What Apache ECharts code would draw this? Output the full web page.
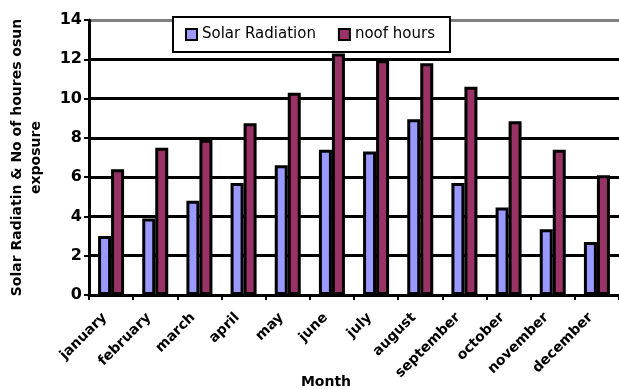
<!DOCTYPE html>
<html>
<head>
<meta charset="utf-8">
<script src="https://cdn.jsdelivr.net/npm/echarts@6/dist/echarts.min.js"></script>
<style>
  html, body { margin: 0; padding: 0; background: #fff; }
  #chart { width: 619px; height: 389px; }
</style>
</head>
<body>
<div id="chart"></div>
<script>
// Monthly solar radiation and hours of sun exposure
const months = ['january', 'february', 'march', 'april', 'may', 'june',
  'july', 'august', 'september', 'october', 'november', 'december'];
const solarRadiation = [3.0, 3.9, 4.8, 5.7, 6.6, 7.4, 7.3, 8.95, 5.7, 4.45, 3.35, 2.7];
const sunHours = [6.4, 7.5, 7.9, 8.75, 10.3, 12.3, 11.95, 11.8, 10.6, 8.85, 7.4, 6.1];
const yTicks = [0, 2, 4, 6, 8, 10, 12, 14];

const chart = echarts.init(document.getElementById('chart'));
chart.setOption({
  animation: false,
  backgroundColor: '#fff',
  textStyle: { fontFamily: 'DejaVu Sans, sans-serif' },
  legend: {
    left: 173,
    top: 17,
    padding: [10, 15, 10, 12],
    backgroundColor: '#fff',
    borderColor: '#000',
    borderWidth: 2,
    borderRadius: 0,
    itemWidth: 11,
    itemHeight: 11,
    itemGap: 22,
    icon: 'rect',
    textStyle: { fontSize: 15, color: '#000', fontFamily: 'DejaVu Sans' },
    data: ['Solar Radiation', 'noof hours']
  },
  grid: { left: 89, right: 0, top: 20, bottom: 94, containLabel: false, outerBoundsMode: 'none' },
  xAxis: {
    type: 'category',
    data: months,
    name: 'Month',
    nameLocation: 'middle',
    nameGap: 80,
    nameMoveOverlap: false,
    nameTextStyle: { fontSize: 14, fontWeight: 'bold', color: '#000', fontFamily: 'DejaVu Sans', padding: [0, 56, 0, 0] },
    axisLine: { lineStyle: { color: '#000', width: 3 } },
    axisTick: { show: true, length: 5, lineStyle: { color: '#000', width: 2 } },
    axisLabel: {
      rotate: 45, fontSize: 14, fontWeight: 'bold', color: '#000', fontFamily: 'DejaVu Sans',
      margin: 14, interval: 0, padding: [0, 9, 0, 0]
    }
  },
  yAxis: {
    type: 'value',
    min: 0,
    max: 14,
    interval: 2,
    name: 'Solar Radiatin & No of houres osun\nexposure',
    nameLocation: 'middle',
    nameGap: 43,
    nameMoveOverlap: false,
    nameTextStyle: { fontSize: 14, fontWeight: 'bold', color: '#000', fontFamily: 'DejaVu Sans', lineHeight: 19 },
    axisLine: { show: true, lineStyle: { color: '#000', width: 3 } },
    axisTick: { show: true, length: 5, lineStyle: { color: '#000', width: 2 } },
    axisLabel: {
      fontSize: 16, fontWeight: 'bold', color: '#000', fontFamily: 'DejaVu Sans', margin: 7,
      formatter: v => yTicks.includes(v) ? String(v) : ''
    },
    splitLine: {
      show: true,
      lineStyle: {
        color: ['#000', '#000', '#000', '#000', '#000', '#000', '#000', '#808080'],
        width: 3
      }
    }
  },
  series: [
    {
      name: 'Solar Radiation',
      type: 'bar',
      data: solarRadiation,
      barWidth: 13,
      barGap: '0%',
      itemStyle: { color: '#9999FF', borderColor: '#000', borderWidth: 3 }
    },
    {
      name: 'noof hours',
      type: 'bar',
      data: sunHours,
      barWidth: 13,
      barGap: '0%',
      itemStyle: { color: '#993366', borderColor: '#000', borderWidth: 3 }
    }
  ]
});
</script>
</body>
</html>
